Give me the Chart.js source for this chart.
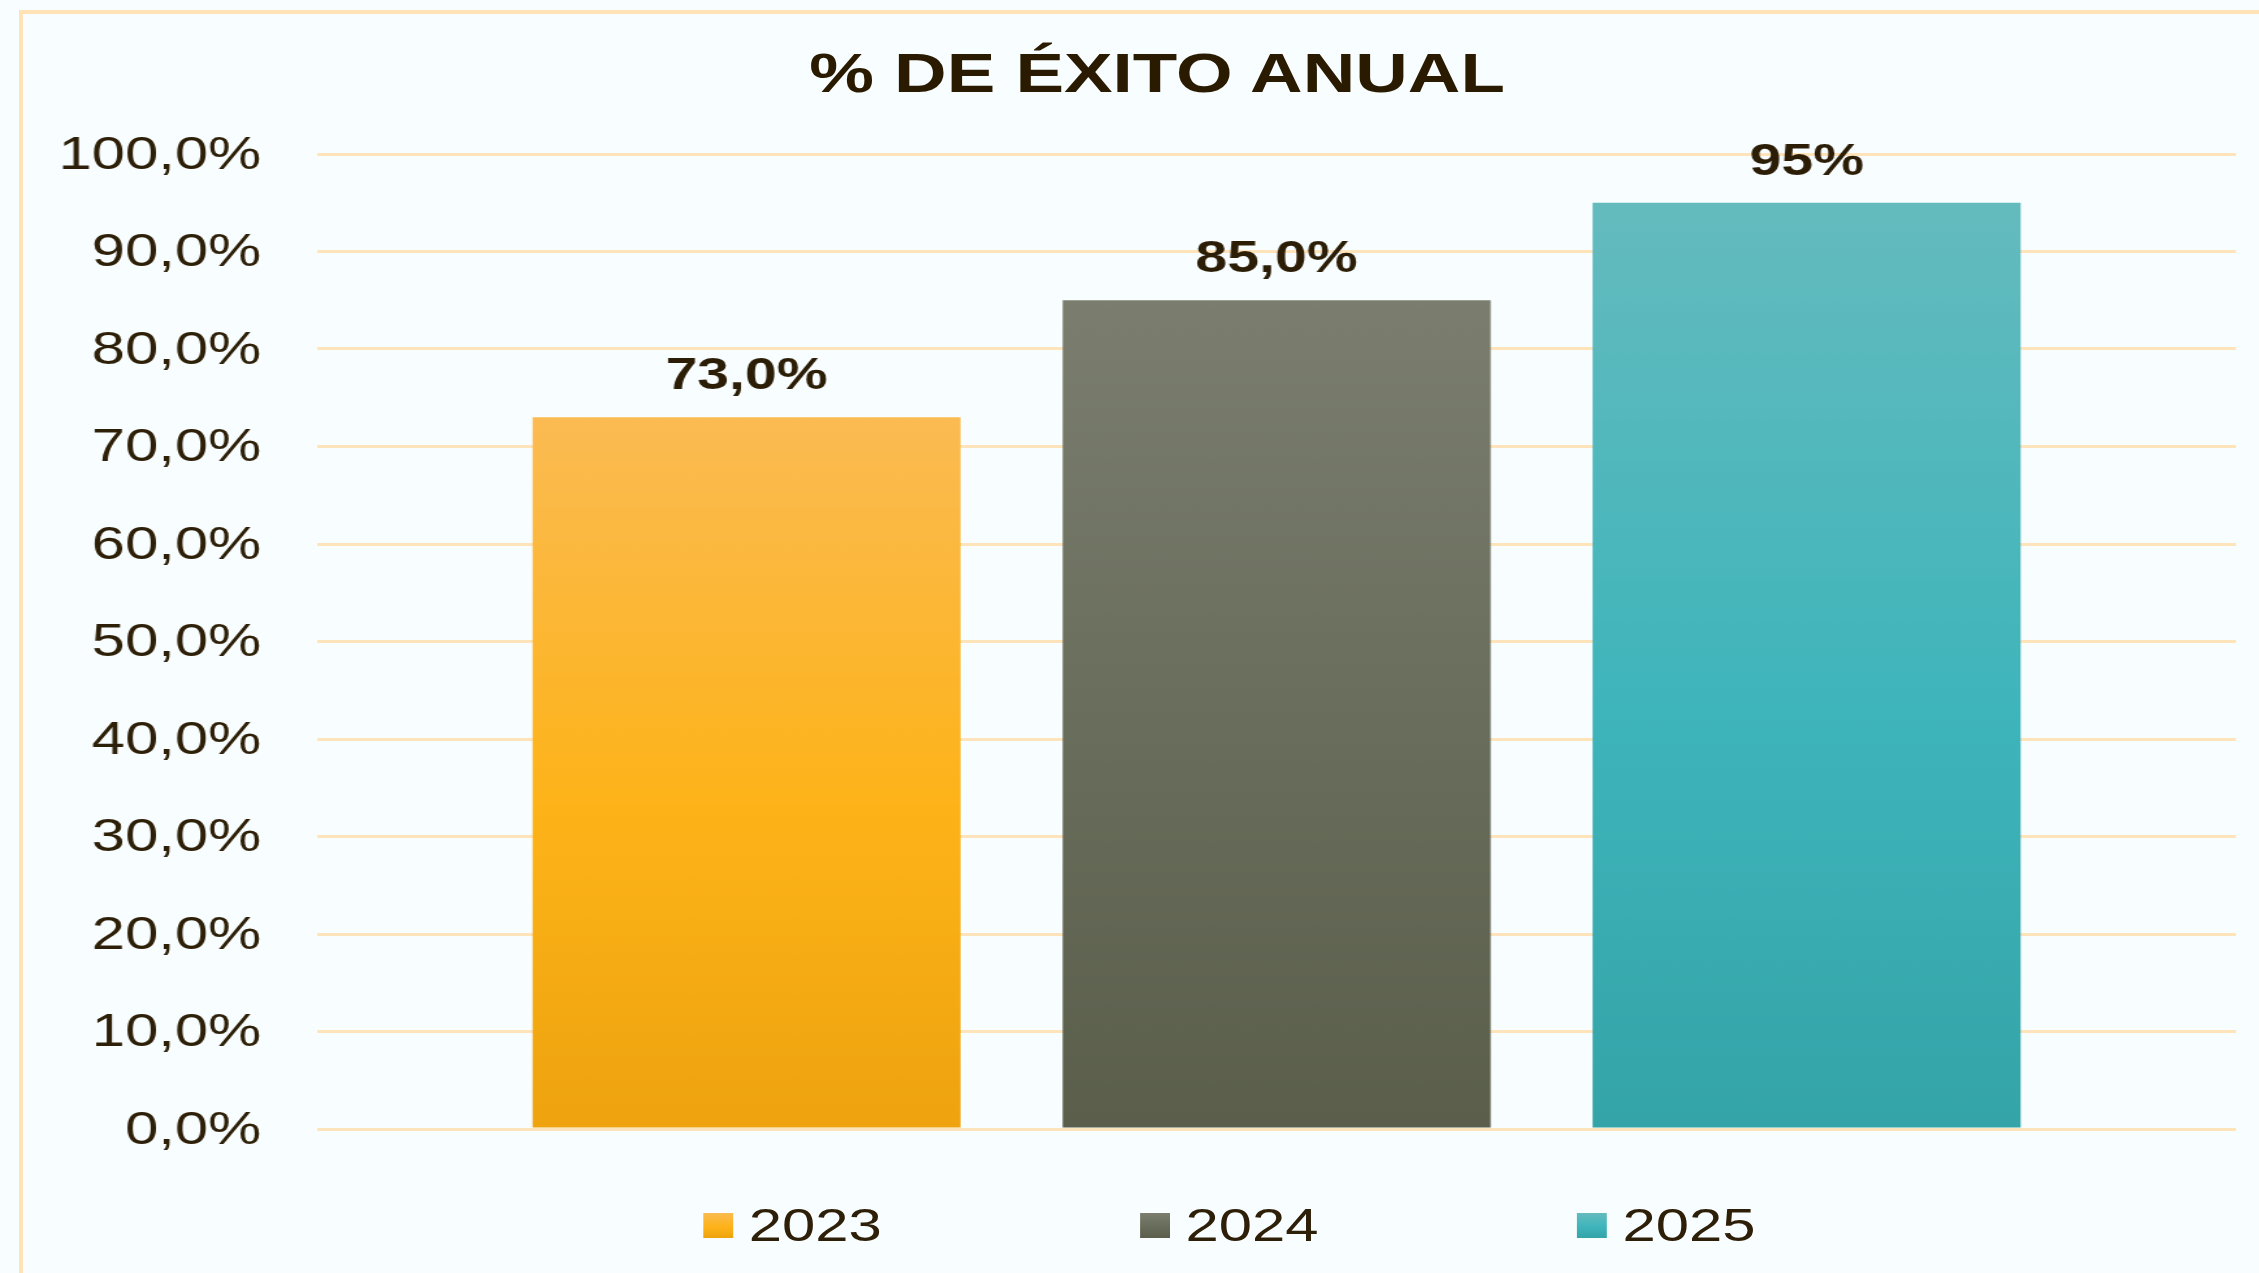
<!DOCTYPE html>
<html lang="es">
<head>
<meta charset="utf-8">
<title>% de éxito anual</title>
<script src="https://cdn.jsdelivr.net/npm/chart.js@4.4.1/dist/chart.umd.min.js"></script>
<style>
    html, body {
        margin: 0;
        padding: 0;
        background: #F8FEFF;
        overflow: hidden;
        font-family: "Liberation Sans", Arial, sans-serif;
    }
    .frame {
        position: absolute;
        left: 19px;
        top: 10px;
        width: 2400px;
        height: 1400px;
        border: 4px solid #FFE2B6;
    }
    /* the whole chart is drawn a bit narrow and widened horizontally */
    #stage {
        position: absolute;
        left: 0;
        top: 0;
        width: 1738px;
        height: 1273px;
        transform: scaleX(1.3);
        transform-origin: 0 0;
    }
    #chart-box {
        position: absolute;
        inset: 0;
    }
    #title {
        position: absolute;
        left: 0;
        top: 45px;
        width: 1780px;
        margin: 0;
        text-align: center;
        font: bold 56px/56px "Liberation Sans", Arial, sans-serif;
        color: #2A1A00;
    }
    #legend {
        position: absolute;
        left: 541px;
        top: 1202px;
        display: flex;
        margin: 0;
        padding: 0;
        list-style: none;
    }
    #legend li {
        flex: 0 0 336px;
        display: flex;
        align-items: center;
        font-size: 46px;
        line-height: 46px;
        color: #2E2008;
    }
    #legend .swatch {
        width: 23px;
        height: 25px;
        margin-right: 12px;
    }
</style>
</head>
<body>
<div class="frame"></div>
<div id="stage">
    <div id="chart-box"><canvas id="exitoChart"></canvas></div>
    <h1 id="title">% DE ÉXITO ANUAL</h1>
    <ul id="legend"></ul>
</div>

<script>
    const years = ["2023", "2024", "2025"];
    const successRates = [73, 85, 95];
    const labelDecimals = [1, 1, 0];

    const yMin = 0;
    const yMax = 100;
    const yStep = 10;

    // top, middle, bottom of each bar's gradient
    const seriesColors = [
        ["#FBBB52", "#FDB318", "#EEA30F"],
        ["#7B7E6F", "#686C5A", "#5A5E4B"],
        ["#64BBBE", "#3EB5BB", "#34A4A8"]
    ];

    const textColor = "#2E2008";
    const gridColor = "#FFE3BA";

    Chart.defaults.font.family = '"Liberation Sans", Arial, sans-serif';

    function percent(value, decimals) {
        return value.toFixed(decimals).replace(".", ",") + "%";
    }

    function barGradient(context, i) {
        const chart = context.chart;
        const area = chart.chartArea;
        const colors = seriesColors[i];
        if (!area) return colors[1];
        const y = chart.scales.y;
        const top = y.getPixelForValue(successRates[i]);
        const bottom = y.getPixelForValue(0);
        const g = chart.ctx.createLinearGradient(0, top, 0, bottom);
        g.addColorStop(0, colors[0]);
        g.addColorStop(0.55, colors[1]);
        g.addColorStop(1, colors[2]);
        return g;
    }

    // value written above each bar
    const barValues = {
        id: "barValues",
        afterDatasetsDraw(chart) {
            const ctx = chart.ctx;
            ctx.save();
            ctx.font = "bold 44px " + Chart.defaults.font.family;
            ctx.fillStyle = "#2B1D06";
            ctx.textAlign = "center";
            ctx.textBaseline = "alphabetic";
            chart.data.datasets.forEach((ds, i) => {
                const bar = chart.getDatasetMeta(i).data[0];
                ctx.fillText(percent(ds.data[0], labelDecimals[i]), bar.x, bar.y - 28);
            });
            ctx.restore();
        }
    };

    const ctx = document.getElementById("exitoChart").getContext("2d");

    const chart = new Chart(ctx, {
        type: "bar",
        data: {
            labels: [""],
            datasets: years.map((year, i) => ({
                label: year,
                data: [successRates[i]],
                backgroundColor: (c) => barGradient(c, i),
                categoryPercentage: 0.8287,
                barPercentage: 0.8075
            }))
        },
        options: {
            responsive: true,
            maintainAspectRatio: false,
            animation: false,
            layout: {
                padding: { top: 154, right: 18, bottom: 144, left: 0 }
            },
            scales: {
                x: { display: false },
                y: {
                    min: yMin,
                    max: yMax,
                    afterFit: (scale) => { scale.width = 244; },
                    border: { display: false },
                    grid: {
                        color: gridColor,
                        lineWidth: 3,
                        drawTicks: false
                    },
                    ticks: {
                        stepSize: yStep,
                        padding: 43,
                        labelOffset: 2,
                        color: textColor,
                        font: { size: 46 },
                        callback: (v) => percent(v, 1)
                    }
                }
            },
            plugins: {
                legend: { display: false },
                title: { display: false },
                tooltip: {
                    callbacks: {
                        label: (item) => item.dataset.label + ": " + percent(item.raw, labelDecimals[item.datasetIndex])
                    }
                }
            }
        },
        plugins: [barValues]
    });

    // legend list built from the datasets
    const legend = document.getElementById("legend");
    chart.data.datasets.forEach((ds, i) => {
        const li = document.createElement("li");
        const box = document.createElement("span");
        box.className = "swatch";
        const c = seriesColors[i];
        box.style.background = `linear-gradient(${c[0]}, ${c[1]} 55%, ${c[2]})`;
        li.appendChild(box);
        li.appendChild(document.createTextNode(ds.label));
        legend.appendChild(li);
    });
</script>
</body>
</html>
